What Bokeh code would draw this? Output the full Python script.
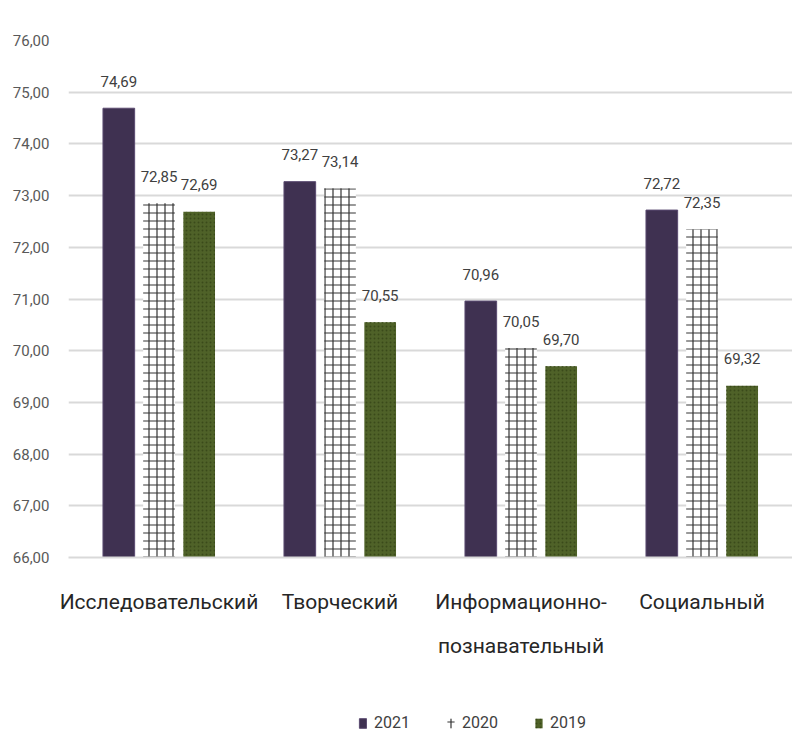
from bokeh.plotting import figure
from bokeh.layouts import column
from bokeh.models import Legend, LegendItem, FixedTicker, ColumnDataSource, Range1d
from bokeh.transform import dodge
from bokeh.core.properties import value
from bokeh.embed import file_html
from bokeh.resources import INLINE

categories = ["Исследовательский", "Творческий", "Информационно-\nпознавательный", "Социальный"]
years = ["2021", "2020", "2019"]
v2021 = [74.69, 73.27, 70.96, 72.72]
v2020 = [72.85, 73.14, 70.05, 72.35]
v2019 = [72.69, 70.55, 69.70, 69.32]
y_ticks = [66, 67, 68, 69, 70, 71, 72, 73, 74, 75, 76]
y_tick_labels = ["66,00", "67,00", "68,00", "69,00", "70,00", "71,00", "72,00", "73,00", "74,00", "75,00", "76,00"]

FONT = "Roboto"

def fmt(v):
    return f"{v:.2f}".replace(".", ",")

src = ColumnDataSource(dict(
    cat=categories,
    v2021=v2021, v2020=v2020, v2019=v2019,
    l2021=[fmt(v) for v in v2021],
    l2020=[fmt(v) for v in v2020],
    l2019=[fmt(v) for v in v2019],
))

p = figure(x_range=categories, y_range=(66, 76), width=792, height=698,
           output_backend="svg", toolbar_location=None,
           min_border_left=68, min_border_right=0, min_border_top=40, min_border_bottom=141)
p.x_range.range_padding = 0
p.outline_line_color = None
p.background_fill_color = "white"
p.border_fill_color = "white"

offs = [-0.222, 0.0, 0.222]
bw = 0.175
styles = [
    dict(fill_color="#3f3151", line_color="#5a4a70", line_width=1),
    dict(fill_color="white", line_color=None, hatch_pattern="+", hatch_color="#333333",
         hatch_scale=8, hatch_weight=1.2),
    dict(fill_color="#4f6228", line_color=None, hatch_pattern=".", hatch_color="#3a4a1a",
         hatch_scale=4, hatch_weight=1),
]
cols = ["v2021", "v2020", "v2019"]

for off, col, st in zip(offs, cols, styles):
    p.vbar(x=dodge("cat", off, range=p.x_range), top=col, bottom=66, width=bw, source=src, **st)

for off, col in zip(offs, ["l2021", "l2020", "l2019"]):
    top = col.replace("l", "v")
    p.text(x=dodge("cat", off, range=p.x_range), y=top, text=col, source=src,
           text_align="center", text_baseline="middle", y_offset=-27,
           text_font=value(FONT), text_font_size="15px", text_color="#404040")

# axes
p.yaxis.ticker = FixedTicker(ticks=y_ticks)
p.yaxis.major_label_overrides = {t: l for t, l in zip(y_ticks, y_tick_labels)}
p.yaxis.axis_line_color = None
p.yaxis.major_tick_line_color = None
p.yaxis.minor_tick_line_color = None
p.yaxis.major_label_text_font = FONT
p.yaxis.major_label_text_font_size = "15px"
p.yaxis.major_label_text_color = "#595959"
p.yaxis.major_label_standoff = 13

p.xaxis.axis_line_color = "#d9d9d9"
p.xaxis.axis_line_width = 2
p.xaxis.major_tick_line_color = None
p.xaxis.minor_tick_line_color = None
p.xaxis.major_label_text_font = FONT
p.xaxis.major_label_text_font_size = "21px"
p.xaxis.major_label_text_color = "#262626"
p.xaxis.major_label_text_line_height = 1.85
p.xaxis.major_label_standoff = 26

p.xgrid.grid_line_color = None
p.ygrid.ticker = FixedTicker(ticks=y_ticks)
p.ygrid.grid_line_color = "#d9d9d9"
p.ygrid.grid_line_width = 2

# legend strip below the chart
lf = figure(x_range=p.x_range, y_range=Range1d(0, 1), width=792, height=40,
            output_backend="svg", toolbar_location=None,
            min_border_left=0, min_border_right=0, min_border_top=0, min_border_bottom=0)
lf.axis.visible = False
lf.grid.visible = False
lf.outline_line_color = None
lf.background_fill_color = "white"
lf.border_fill_color = "white"

legend_renderers = []
for off, col, st in zip(offs, cols, styles):
    r = lf.vbar(x=dodge("cat", off, range=lf.x_range), top=col, bottom=66, width=bw,
                source=src, **st)
    r.visible = False
    legend_renderers.append(r)

legend = Legend(items=[LegendItem(label=y, renderers=[r]) for y, r in zip(years, legend_renderers)],
                orientation="horizontal", location=(290, 6),
                label_text_font=FONT, label_text_font_size="16px", label_text_color="#404040",
                glyph_width=9, glyph_height=12, label_standoff=7, spacing=36,
                border_line_color=None, background_fill_alpha=0, padding=4, margin=0,
                inactive_fill_alpha=0)
lf.add_layout(legend, "center")

layout = column(p, lf, spacing=0)

open("out.html", "w").write(file_html(layout, INLINE))
